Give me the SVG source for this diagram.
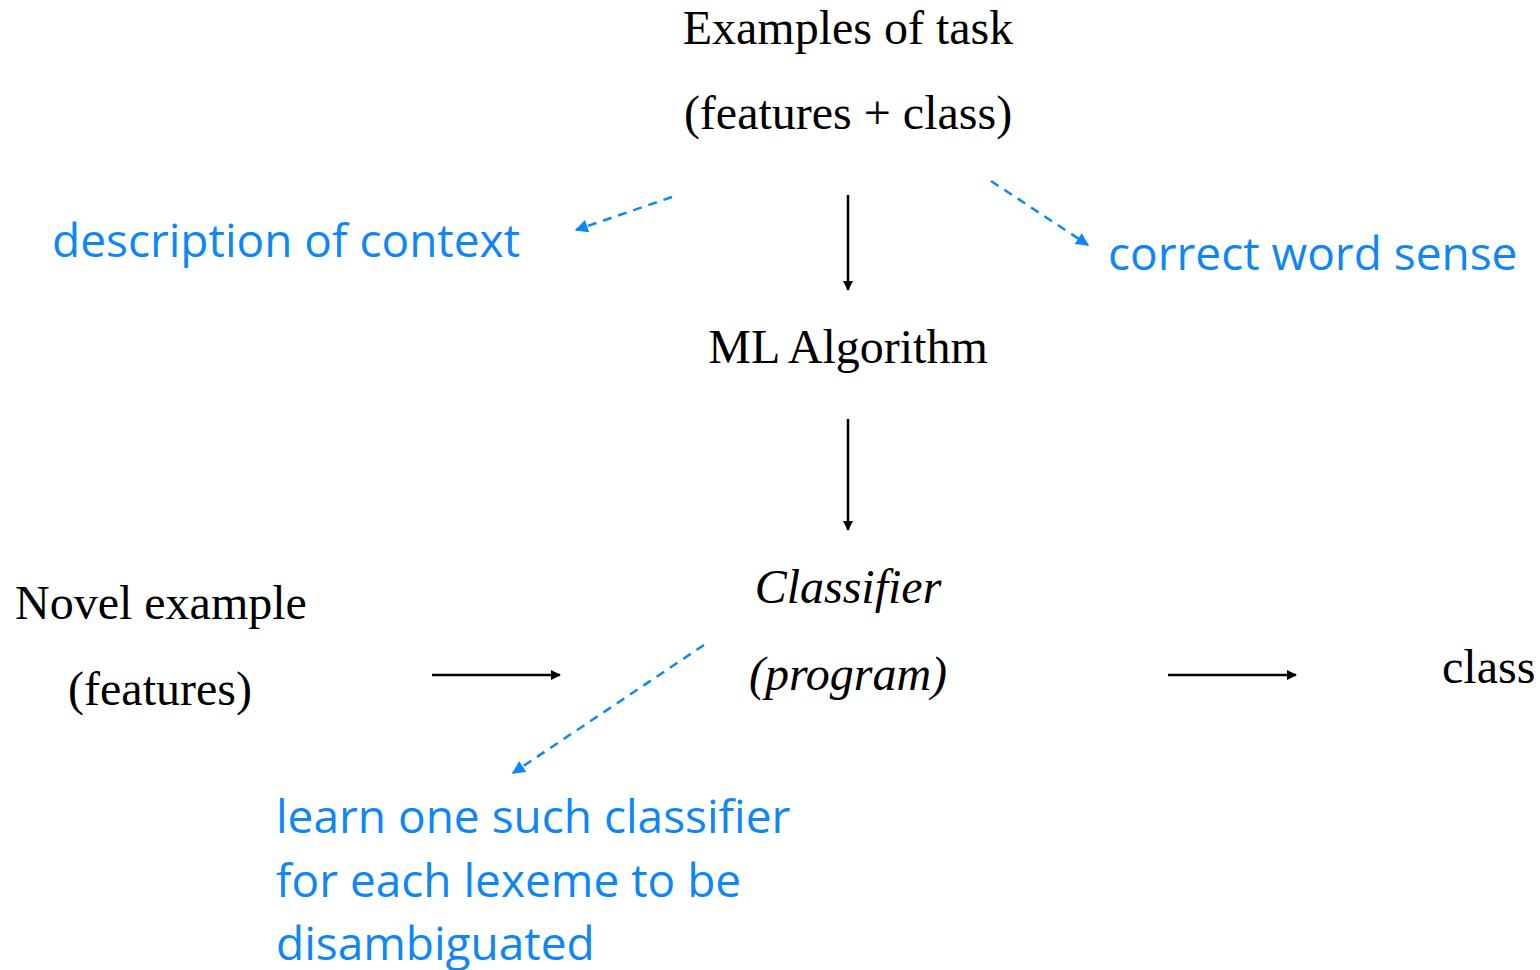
<svg xmlns="http://www.w3.org/2000/svg" width="1540" height="970" viewBox="0 0 1540 970">
  <style>
    .serif { font-family: "Liberation Serif", "Times New Roman", serif; font-size: 48px; fill: #000; }
    .ital { font-style: italic; }
    .note { font-family: "Open Sans", "Noto Sans", sans-serif; font-size: 46px; fill: #0F86F5; }
    .solid { stroke: #000; stroke-width: 2.5; fill: none; }
    .dash { stroke: #0F86F5; stroke-width: 2.5; stroke-dasharray: 9 7; fill: none; }
  </style>
  <defs>
    <marker id="headBlack" viewBox="0 0 10 10" refX="9" refY="5" markerWidth="4.4" markerHeight="4" orient="auto" markerUnits="strokeWidth">
      <path d="M0,0 L10,5 L0,10 z" fill="#000"/>
    </marker>
    <marker id="headBlue" viewBox="0 0 10 10" refX="9" refY="5" markerWidth="5.8" markerHeight="5.2" orient="auto" markerUnits="strokeWidth">
      <path d="M0,0 L10,5 L0,10 z" fill="#0F86F5"/>
    </marker>
  </defs>

  <g id="examples">
    <text class="serif" x="848" y="44" text-anchor="middle">Examples of task</text>
    <text class="serif" x="848" y="129" text-anchor="middle">(features + class)</text>
  </g>
  <g id="context-note">
    <text class="note" x="52" y="257">description of context</text>
  </g>
  <g id="sense-note">
    <text class="note" x="1108" y="270">correct word sense</text>
  </g>
  <g id="ml-algorithm">
    <text class="serif" x="848" y="363" text-anchor="middle">ML Algorithm</text>
  </g>
  <g id="classifier">
    <text class="serif ital" x="848" y="603" text-anchor="middle">Classifier</text>
    <text class="serif ital" x="848" y="690" text-anchor="middle">(program)</text>
  </g>
  <g id="novel-example">
    <text class="serif" x="15" y="619">Novel example</text>
    <text class="serif" x="160" y="705" text-anchor="middle">(features)</text>
  </g>
  <g id="class-output">
    <text class="serif" x="1442" y="683">class</text>
  </g>
  <g id="lexeme-note">
    <text class="note" x="276" y="833">learn one such classifier</text>
    <text class="note" x="276" y="897">for each lexeme to be</text>
    <text class="note" x="276" y="960">disambiguated</text>
  </g>

  <g id="connectors">
    <line class="solid" x1="848" y1="195" x2="848" y2="290" marker-end="url(#headBlack)"/>
    <line class="solid" x1="848" y1="419" x2="848" y2="530" marker-end="url(#headBlack)"/>
    <line class="solid" x1="432" y1="675" x2="560" y2="675" marker-end="url(#headBlack)"/>
    <line class="solid" x1="1168" y1="675" x2="1296" y2="675" marker-end="url(#headBlack)"/>
    <line class="dash" x1="672" y1="197" x2="576" y2="230" marker-end="url(#headBlue)"/>
    <line class="dash" x1="991" y1="181" x2="1088" y2="245" marker-end="url(#headBlue)"/>
    <line class="dash" x1="704" y1="645" x2="513" y2="773" marker-end="url(#headBlue)"/>
  </g>
</svg>
